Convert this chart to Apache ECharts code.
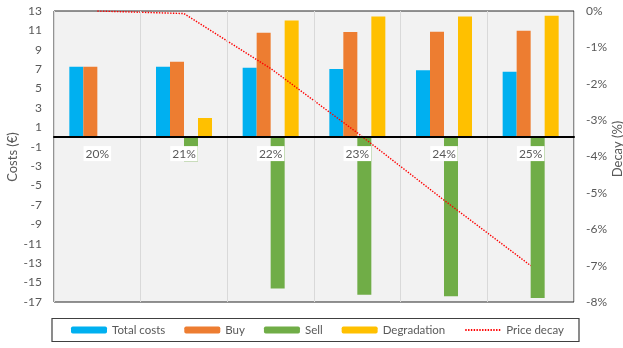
<!DOCTYPE html>
<html>
<head>
<meta charset="utf-8">
<script src="https://cdn.jsdelivr.net/npm/echarts@6/dist/echarts.min.js"></script>
<style>
  html, body { margin: 0; padding: 0; background: #fff; }
  #chart { width: 623px; height: 348px; }
</style>
</head>
<body>
<div id="chart"></div>
<script>
// Degradation scenarios (price decay steps)
const categories = ['20%', '21%', '22%', '23%', '24%', '25%'];

// Cost components, in euro
const totalCosts  = [7.26, 7.26, 7.15, 7.02, 6.88, 6.74];
const buyCosts    = [7.26, 7.77, 10.76, 10.83, 10.87, 10.97];
const sellCosts   = [0, -2.5, -15.6, -16.25, -16.4, -16.6];
const degradation = [0, 1.97, 12.03, 12.44, 12.44, 12.5];

// Price decay, in percent (secondary axis)
const priceDecay  = [0, -0.07, -1.58, -3.35, -5.2, -7.0];

// Tick labels
const costTicks  = [-17, -15, -13, -11, -9, -7, -5, -3, -1, 1, 3, 5, 7, 9, 11, 13];

const FONT = 'Lato, "Liberation Sans", sans-serif';
const TEXT = '#595959';

const COST_MIN = -17, COST_MAX = 13;
const GRID = { left: 54, right: 49, top: 11, bottom: 46 };
const CHART_H = 348;
// the category axis sits on the zero cost line
const plotH = CHART_H - GRID.top - GRID.bottom;
const zeroOffset = -plotH * (0 - COST_MIN) / (COST_MAX - COST_MIN);

const chart = echarts.init(document.getElementById('chart'), null, { renderer: 'canvas' });

const barBase = {
  type: 'bar',
  barWidth: 14,
  barGap: '0%',
  yAxisIndex: 0
};

chart.setOption({
  animation: false,
  textStyle: { fontFamily: FONT },
  grid: Object.assign({
    show: true,
    backgroundColor: '#F2F2F2',
    borderColor: '#262626',
    borderWidth: 1
  }, GRID),
  xAxis: [
    {
      type: 'category',
      data: categories,
      position: 'bottom',
      offset: zeroOffset,
      axisLine: { onZero: false, lineStyle: { color: '#000', width: 2 } },
      axisTick: { show: false },
      axisLabel: {
        color: TEXT, fontSize: 12, fontFamily: FONT,
        backgroundColor: '#fff', padding: [2, 2, 1, 2], margin: 9
      },
      splitLine: { show: true, interval: 0, lineStyle: { color: '#D9D9D9', width: 1 } },
      z: 6
    }
  ],
  yAxis: [
    {
      type: 'value', min: COST_MIN, max: COST_MAX,
      axisLine: { show: false },
      axisTick: { show: false },
      splitLine: { show: false },
      axisLabel: { color: TEXT, fontSize: 12, fontFamily: FONT, margin: 12, customValues: costTicks }
    },
    {
      type: 'value', min: -8, max: 0, interval: 1,
      axisLine: { show: false },
      axisTick: { show: false },
      splitLine: { show: false },
      axisLabel: { color: TEXT, fontSize: 12, fontFamily: FONT, margin: 12, formatter: '{value}%' }
    }
  ],
  legend: {
    left: 71, top: 324,
    padding: 0,
    itemWidth: 36, itemHeight: 7, itemGap: 19,
    textStyle: { color: TEXT, fontSize: 11.5, fontFamily: FONT },
    data: ['Total costs', 'Buy', 'Sell', 'Degradation', { name: 'Price decay', itemStyle: { opacity: 0 } }]
  },
  graphic: [
    {
      type: 'rect',
      shape: { x: 52, y: 318.5, width: 527, height: 23 },
      style: { fill: null, stroke: '#404040', lineWidth: 1.2 },
      silent: true
    },
    {
      type: 'text', x: 12.5, y: 157, rotation: Math.PI / 2,
      style: { text: 'Costs (€)', fill: TEXT, fontSize: 13, fontFamily: FONT, align: 'center', verticalAlign: 'middle' }
    },
    {
      type: 'text', x: 617.5, y: 149, rotation: Math.PI / 2,
      style: { text: 'Decay (%)', fill: TEXT, fontSize: 13, fontFamily: FONT, align: 'center', verticalAlign: 'middle' }
    }
  ],
  series: [
    Object.assign({}, barBase, { name: 'Total costs', data: totalCosts, itemStyle: { color: '#00B0F0' } }),
    Object.assign({}, barBase, { name: 'Buy', data: buyCosts, itemStyle: { color: '#ED7D31' } }),
    Object.assign({}, barBase, { name: 'Sell', data: sellCosts, itemStyle: { color: '#70AD47' } }),
    Object.assign({}, barBase, { name: 'Degradation', data: degradation, itemStyle: { color: '#FFC000' } }),
    {
      type: 'line', name: 'Price decay', yAxisIndex: 1,
      data: priceDecay,
      symbol: 'none',
      z: 5,
      itemStyle: { color: '#FF0000' },
      lineStyle: { color: '#FF0000', width: 1.4, type: [1.4, 1.4] }
    }
  ]
});
</script>
</body>
</html>
